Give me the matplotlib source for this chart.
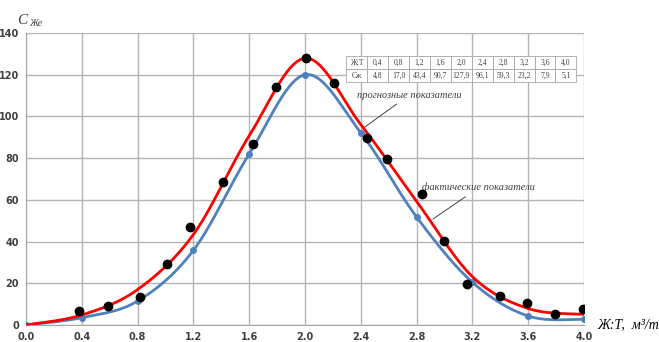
import matplotlib.pyplot as plt
import numpy as np

# прогнозные показатели (синяя линия)
xProg = [0.0, 0.4, 0.8, 1.2, 1.6, 2.0, 2.4, 2.8, 3.2, 3.6, 4.0]
yProg = [0.0, 3.5, 11.5, 35.8, 82.0, 120.0, 92.2, 51.8, 20.5, 4.3, 2.7]

# расчетная кривая (красная линия) по таблице
xCalc = [0.0, 0.4, 0.8, 1.2, 1.6, 2.0, 2.4, 2.8, 3.2, 3.6, 4.0]
yCalc = [0.0, 4.8, 17.0, 43.4, 90.7, 127.9, 96.1, 59.3, 23.2, 7.9, 5.1]

# фактические показатели (черные точки)
xFakt = [0.38, 0.59, 0.82, 1.01, 1.175, 1.41, 1.63, 1.79, 2.005, 2.21, 2.445,
         2.585, 2.84, 3.0, 3.16, 3.40, 3.59, 3.79, 3.99]
yFakt = [6.6, 9.1, 13.4, 29.4, 47.0, 68.7, 86.8, 113.9, 128.0, 115.9, 89.5,
         79.4, 62.6, 40.3, 19.5, 13.7, 10.5, 5.4, 7.5]

tabX = ['0,4', '0,8', '1,2', '1,6', '2,0', '2,4', '2,8', '3,2', '3,6', '4,0']
tabY = ['4,8', '17,0', '43,4', '90,7', '127,9', '96,1', '59,3', '23,2', '7,9', '5,1']


def sglad(x, y, n=30):
    # сглаживание как в Excel (кривые Безье)
    x = np.array(x)
    y = np.array(y)
    px = np.concatenate([[x[0]], x, [x[-1]]])
    py = np.concatenate([[y[0]], y, [y[-1]]])
    xs, ys = [], []
    t = np.linspace(0, 1, n)
    for i in range(len(x) - 1):
        p0 = np.array([px[i + 1], py[i + 1]])
        p3 = np.array([px[i + 2], py[i + 2]])
        p1 = p0 + (p3 - np.array([px[i], py[i]])) / 6
        p2 = p3 - (np.array([px[i + 3], py[i + 3]]) - p0) / 6
        b = ((1 - t) ** 3)[:, None] * p0 + (3 * (1 - t) ** 2 * t)[:, None] * p1 \
            + (3 * (1 - t) * t ** 2)[:, None] * p2 + (t ** 3)[:, None] * p3
        xs.extend(b[:, 0])
        ys.extend(b[:, 1])
    return xs, ys


fig = plt.figure(figsize=(6.59, 3.42), dpi=100)
ax = fig.add_axes([0.0395, 0.0497, 0.8466, 0.8538])

sx, sy = sglad(xProg, yProg)
ax.plot(sx, sy, color='#4f81bd', lw=2, zorder=3)
ax.plot(xProg, yProg, 'o', color='#4f81bd', ms=4, zorder=3)

sx, sy = sglad(xCalc, yCalc)
ax.plot(sx, sy, color='#ff0000', lw=2, zorder=4)

ax.plot(xFakt, yFakt, 'o', color='black', ms=6, zorder=5)

ax.set_xlim(0, 4.0)
ax.set_ylim(0, 140)
ax.set_xticks(np.arange(0, 4.01, 0.4))
ax.set_xticklabels(['%.1f' % v for v in np.arange(0, 4.01, 0.4)])
ax.set_yticks(range(0, 141, 20))
ax.grid(True, color='#b4b4b4', lw=1)
ax.set_axisbelow(True)
for s in ['top', 'right']:
    ax.spines[s].set_visible(False)
ax.spines['left'].set_color('#a6a6a6')
ax.spines['bottom'].set_color('#a6a6a6')
ax.tick_params(length=0, labelsize=7, colors='#404040')
ax.tick_params(axis='x', pad=5)
ax.tick_params(axis='y', pad=5)
for lab in ax.get_xticklabels() + ax.get_yticklabels():
    lab.set_fontweight('bold')

# подписи осей
fig.text(0.026, 0.93, 'C', fontsize=11, family='Liberation Serif', style='italic', color='#404040')
fig.text(0.044, 0.925, 'Же', fontsize=7, family='Liberation Serif', style='italic', color='#404040')
fig.text(0.906, 0.05, 'Ж:Т,  м³/т', fontsize=10, family='Liberation Serif', style='italic', va='center')

# аннотации
ax.annotate('прогнозные показатели', xy=(2.4, 93.5), xytext=(2.37, 109),
            fontsize=7.5, family='Liberation Serif', style='italic', color='#404040',
            arrowprops=dict(arrowstyle='-', color='#404040', lw=0.7))
ax.annotate('фактические показатели', xy=(2.9, 50), xytext=(2.84, 64.5),
            fontsize=7.5, family='Liberation Serif', style='italic', color='#404040',
            arrowprops=dict(arrowstyle='-', color='#404040', lw=0.7))

# таблица
tab = ax.table(cellText=[['Ж:Т'] + tabX, ['Сж'] + tabY],
               bbox=[2.295 / 4.0, (325 - 82.3) / 292.0, (576 - 345.7) / 558.0, 26.3 / 292.0],
               cellLoc='center')
tab.auto_set_font_size(False)
for k, c in tab.get_celld().items():
    c.set_facecolor('white')
    c.set_edgecolor('#a6a6a6')
    c.set_linewidth(0.6)
    c.get_text().set_fontsize(5.5)
    c.get_text().set_family('Liberation Serif')
    c.get_text().set_color('#404040')
tab.set_zorder(6)

plt.savefig('out.png', dpi=100)
